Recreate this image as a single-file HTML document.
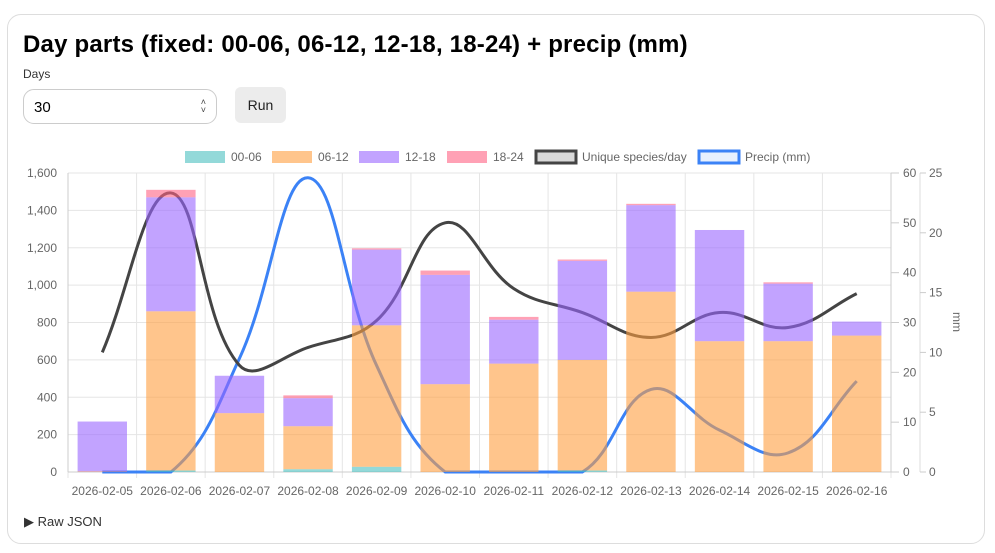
<!DOCTYPE html>
<html><head><meta charset="utf-8"><style>
body{margin:0;width:995px;height:553px;background:#fff;font-family:"Liberation Sans",sans-serif;overflow:hidden;position:relative}
.card{position:absolute;left:7px;top:14px;width:978px;height:530px;border:1px solid #ddd;border-radius:14px;box-sizing:border-box}
h1{position:absolute;left:23px;top:31px;margin:0;font-size:24px;font-weight:bold;color:#000;letter-spacing:0.2px;white-space:nowrap}
.lbl{position:absolute;left:23px;top:67px;font-size:12px;color:#333}
.inp{position:absolute;left:23px;top:89px;width:194px;height:35px;border:1px solid #ccc;border-radius:11px;box-sizing:border-box;font-size:15px;padding:9px 0 0 10px;color:#000}
.spin{position:absolute;right:10px;top:8px;font-size:9px;line-height:8px;color:#444;text-align:center}
.btn{position:absolute;left:235px;top:87px;width:51px;height:36px;background:#ececec;border-radius:6px;font-size:14px;text-align:center;line-height:36px;color:#222}
.raw{position:absolute;left:24px;top:514px;font-size:13px;color:#333}
svg{position:absolute;left:0;top:0}
</style></head><body>
<div class="card"></div>
<h1>Day parts (fixed: 00-06, 06-12, 12-18, 18-24) + precip (mm)</h1>
<div class="lbl">Days</div>
<div class="inp">30<div class="spin">˄<br>˅</div></div>
<div class="btn">Run</div>
<div class="raw">▶ Raw JSON</div>
<svg id="c" width="995" height="553" xmlns="http://www.w3.org/2000/svg" font-family="Liberation Sans, sans-serif"></svg>
<script>
var L=68,R=891,T=173,B=472,n=12,cw=(R-L)/n;
var s='';
function yb(v){return B-(B-T)*v/1600}
function ys(v){return B-(B-T)*v/60}
function yp(v){return B-(B-T)*v/25}
for(var i=0;i<=8;i++){var y=yb(i*200);s+='<line x1="'+L+'" x2="'+R+'" y1="'+y+'" y2="'+y+'" stroke="#e5e5e5"/>';
s+='<text x="57" y="'+(y+4)+'" font-size="12" fill="#666" text-anchor="end">'+(i*200).toLocaleString('en-US')+'</text>';}
for(var i=0;i<=n;i++){var x=L+i*cw;s+='<line x1="'+x+'" x2="'+x+'" y1="'+T+'" y2="'+(B+6)+'" stroke="#e5e5e5"/>';}
s+='<line x1="'+L+'" x2="'+L+'" y1="'+T+'" y2="'+B+'" stroke="#ccc"/><line x1="'+R+'" x2="'+R+'" y1="'+T+'" y2="'+B+'" stroke="#ccc"/><line x1="'+L+'" x2="'+R+'" y1="'+B+'" y2="'+B+'" stroke="#ccc"/>';
for(var i=0;i<=6;i++){var y=ys(i*10);s+='<line x1="'+R+'" x2="'+(R+8)+'" y1="'+y+'" y2="'+y+'" stroke="#ccc"/><text x="903" y="'+(y+4)+'" font-size="12" fill="#666">'+(i*10)+'</text>';}
s+='<line x1="920" x2="920" y1="'+T+'" y2="'+B+'" stroke="#ddd"/>';
for(var i=0;i<=5;i++){var y=yp(i*5);s+='<line x1="920" x2="926" y1="'+y+'" y2="'+y+'" stroke="#ccc"/><text x="929" y="'+(y+4)+'" font-size="12" fill="#666">'+(i*5)+'</text>';}
s+='<text transform="translate(953,322) rotate(90)" font-size="12" fill="#666" text-anchor="middle">mm</text>';
var dates=[];for(var i=0;i<n;i++){var d=5+i;dates.push('2026-02-'+(d<10?'0'+d:d));
s+='<text x="'+(L+cw*i+cw/2)+'" y="495" font-size="12" fill="#666" text-anchor="middle">'+dates[i]+'</text>';}
function path(vals,f,clamp){var p=vals.map(function(v,i){return[L+cw*i+cw/2,f(v)]});var d='M'+p[0][0]+','+p[0][1];var t=0.4;
function cp(i){var a=p[Math.max(i-1,0)],b=p[i],c=p[Math.min(i+1,p.length-1)];var d01=Math.hypot(b[0]-a[0],b[1]-a[1]),d12=Math.hypot(c[0]-b[0],c[1]-b[1]);var fa=t*d01/(d01+d12||1),fb=t*d12/(d01+d12||1);
var pr=[b[0]-fa*(c[0]-a[0]),b[1]-fa*(c[1]-a[1])],nx=[b[0]+fb*(c[0]-a[0]),b[1]+fb*(c[1]-a[1])];
if(clamp){pr[1]=Math.min(Math.max(pr[1],T),B);nx[1]=Math.min(Math.max(nx[1],T),B);}return[pr,nx];}
for(var i=1;i<p.length;i++){var c1=cp(i-1)[1],c2=cp(i)[0];d+=' C'+c1[0]+','+c1[1]+' '+c2[0]+','+c2[1]+' '+p[i][0]+','+p[i][1];}return d;}
var sp=[24,56,21.4,25,30.4,50,36.8,32,27,32,29,35.8];
var pr=[0,0,9.5,24.6,8.9,0,0,0,6.9,3.5,1.6,7.6];
s+='<path d="'+path(pr,yp,true)+'" fill="none" stroke="#3b82f6" stroke-width="3"/>';
s+='<path d="'+path(sp,ys,false)+'" fill="none" stroke="#444" stroke-width="3"/>';
var bars=[[0,3,270,270],[8,860,1470,1510],[0,315,515,515],[15,245,395,410],[28,785,1190,1197],[0,470,1055,1078],[0,580,815,830],[8,600,1130,1137],[0,965,1428,1435],[0,700,1295,1295],[0,700,1008,1015],[0,730,805,805]];
var cols=['rgba(75,192,192,0.6)','rgba(255,159,64,0.6)','rgba(153,102,255,0.6)','rgba(255,99,132,0.6)'];
bars.forEach(function(b,i){var x=L+cw*i+cw/2-24.7,prev=0;for(var k=0;k<4;k++){if(b[k]>prev){s+='<rect x="'+x+'" width="49.4" y="'+yb(b[k])+'" height="'+(yb(prev)-yb(b[k]))+'" fill="'+cols[k]+'"/>';prev=b[k];}}});
var lg=[[185,'00-06',cols[0],null],[272,'06-12',cols[1],null],[359,'12-18',cols[2],null],[447,'18-24',cols[3],null],[536,'Unique species/day','rgba(0,0,0,0.15)','#444'],[699,'Precip (mm)','rgba(59,130,246,0.12)','#3b82f6']];
lg.forEach(function(g){s+='<rect x="'+g[0]+'" y="151" width="40" height="12" fill="'+g[2]+'"'+(g[3]?' stroke="'+g[3]+'" stroke-width="3"':'')+'/><text x="'+(g[0]+46)+'" y="161" font-size="12" fill="#666">'+g[1]+'</text>';});
document.getElementById('c').innerHTML=s;
</script>
</body></html>
